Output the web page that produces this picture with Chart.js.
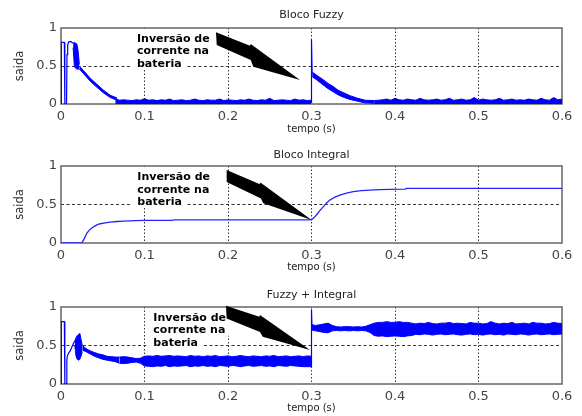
<!DOCTYPE html>
<html>
<head>
<meta charset="utf-8">
<title>saida x tempo</title>
<script src="https://cdn.jsdelivr.net/npm/chart.js@4.4.1/dist/chart.umd.min.js"></script>
<style>
  html, body { margin: 0; padding: 0; background: #fff; }
  #figure { position: relative; width: 582px; height: 416px; }
  #figure canvas { position: absolute; left: 0; }
</style>
</head>
<body>
<div id="figure">
  <canvas id="panel0" width="582" height="140" style="top:0px"></canvas>
  <canvas id="panel1" width="582" height="140" style="top:140px"></canvas>
  <canvas id="panel2" width="582" height="136" style="top:280px"></canvas>
</div>
<script>
// Axes and labels
const xTickLabels = ['0', '0.1', '0.2', '0.3', '0.4', '0.5', '0.6'];
const yTickLabels = ['0', '0.5', '1'];
const panelTitles = ['Bloco Fuzzy', 'Bloco Integral', 'Fuzzy + Integral'];
const noteLines = ['Inversão de', 'corrente na', 'bateria'];

// 1. Bloco Fuzzy
const fuzzyStartT = [0, 0.0004, 0.004, 0.0046, 0.0066, 0.0072, 0.008, 0.0095, 0.012, 0.0145];
const fuzzyStartV = [0, 0.81, 0.81, 0, 0, 0.65, 0.78, 0.82, 0.82, 0.80];
const fuzzyBurstT = [0.0145, 0.016, 0.0175, 0.019, 0.0205, 0.022];
const fuzzyBurstHi = [0.80, 0.81, 0.80, 0.79, 0.70, 0.52];
const fuzzyBurstLo = [0.74, 0.50, 0.47, 0.46, 0.46, 0.46];
const fuzzyDecayT = [0.022, 0.027, 0.035, 0.043, 0.051, 0.059, 0.067];
const fuzzyDecayHi = [0.50, 0.44, 0.34, 0.26, 0.18, 0.115, 0.08];
const fuzzyDecayLo = [0.46, 0.40, 0.30, 0.22, 0.145, 0.085, 0.05];
const fuzzyRippleT1 = [0.065, 0.07, 0.075, 0.08, 0.085, 0.09, 0.095, 0.1, 0.105, 0.11,
    0.115, 0.12, 0.125, 0.13, 0.135, 0.14, 0.145, 0.15, 0.155, 0.16,
    0.165, 0.17, 0.175, 0.18, 0.185, 0.19, 0.195, 0.2, 0.205, 0.21,
    0.215, 0.22, 0.225, 0.23, 0.235, 0.24, 0.245, 0.25, 0.255, 0.26,
    0.265, 0.27, 0.275, 0.28, 0.285, 0.29, 0.295, 0.2995];
const fuzzyRippleHi1 = [0.07, 0.05, 0.055, 0.05, 0.045, 0.055, 0.05, 0.07, 0.05, 0.055,
    0.045, 0.055, 0.05, 0.065, 0.045, 0.05, 0.055, 0.045, 0.05, 0.065,
    0.05, 0.045, 0.055, 0.05, 0.05, 0.065, 0.045, 0.055, 0.05, 0.045,
    0.055, 0.05, 0.065, 0.05, 0.045, 0.055, 0.05, 0.075, 0.045, 0.05,
    0.055, 0.05, 0.045, 0.065, 0.05, 0.055, 0.045, 0.05];
const fuzzySpikeT = [0.2995, 0.3, 0.3008];
const fuzzySpikeV = [0.02, 0.85, 0.40];
const fuzzyDecay2T = [0.3008, 0.306, 0.314, 0.32, 0.326, 0.332, 0.338, 0.346, 0.354, 0.364, 0.375];
const fuzzyDecay2Hi = [0.42, 0.38, 0.32, 0.27, 0.23, 0.18, 0.15, 0.11, 0.08, 0.05, 0.045];
const fuzzyDecay2Lo = [0.36, 0.32, 0.25, 0.20, 0.16, 0.12, 0.09, 0.06, 0.04, 0.015, 0.01];
const fuzzyRippleT2 = [0.375, 0.38, 0.385, 0.39, 0.395, 0.4, 0.405, 0.41, 0.415, 0.42,
    0.425, 0.43, 0.435, 0.44, 0.445, 0.45, 0.455, 0.46, 0.465, 0.47,
    0.475, 0.48, 0.485, 0.49, 0.495, 0.5, 0.505, 0.51, 0.515, 0.52,
    0.525, 0.53, 0.535, 0.54, 0.545, 0.55, 0.555, 0.56, 0.565, 0.57,
    0.575, 0.58, 0.585, 0.59, 0.595, 0.6];
const fuzzyRippleHi2 = [0.045, 0.05, 0.055, 0.065, 0.05, 0.075, 0.055, 0.05, 0.065, 0.055,
    0.05, 0.075, 0.055, 0.05, 0.055, 0.065, 0.05, 0.055, 0.075, 0.05,
    0.055, 0.065, 0.05, 0.055, 0.085, 0.05, 0.065, 0.055, 0.05, 0.055,
    0.075, 0.05, 0.055, 0.065, 0.05, 0.055, 0.05, 0.065, 0.055, 0.05,
    0.075, 0.055, 0.05, 0.085, 0.055, 0.065];

// 2. Bloco Integral
const integralT = [0, 0.025, 0.028, 0.031, 0.035, 0.039, 0.043, 0.047, 0.053, 0.059,
    0.067, 0.075, 0.09, 0.1, 0.133, 0.135, 0.2, 0.3, 0.303, 0.306,
    0.31, 0.314, 0.318, 0.322, 0.328, 0.334, 0.342, 0.35, 0.36, 0.37,
    0.382, 0.394, 0.412, 0.414, 0.6];
const integralV = [0, 0, 0.06, 0.13, 0.18, 0.21, 0.235, 0.25, 0.262, 0.27,
    0.279, 0.285, 0.291, 0.293, 0.295, 0.30, 0.30, 0.30, 0.33, 0.364,
    0.42, 0.47, 0.52, 0.558, 0.595, 0.623, 0.648, 0.667, 0.679, 0.688,
    0.693, 0.697, 0.70, 0.71, 0.71];

// 3. Fuzzy + Integral
const comboStartT = [0, 0.0004, 0.004, 0.0046, 0.0066, 0.007, 0.0075, 0.009, 0.011, 0.013, 0.015, 0.0165];
const comboStartV = [0, 0.81, 0.81, 0, 0, 0.30, 0.36, 0.40, 0.43, 0.48, 0.53, 0.56];
const comboBurstT = [0.0165, 0.018, 0.0195, 0.021, 0.0225, 0.024, 0.0255];
const comboBurstHi = [0.56, 0.60, 0.63, 0.64, 0.66, 0.58, 0.50];
const comboBurstLo = [0.50, 0.36, 0.32, 0.31, 0.32, 0.36, 0.42];
const comboDecayT = [0.0255, 0.03, 0.035, 0.04, 0.045, 0.05, 0.055, 0.06, 0.065, 0.07];
const comboDecayHi = [0.50, 0.46, 0.43, 0.41, 0.39, 0.38, 0.36, 0.355, 0.35, 0.35];
const comboDecayLo = [0.44, 0.42, 0.39, 0.36, 0.34, 0.32, 0.31, 0.30, 0.29, 0.27];
const comboRippleT1 = [0.07, 0.075, 0.08, 0.085, 0.09, 0.095, 0.1, 0.105, 0.11, 0.115,
    0.12, 0.125, 0.13, 0.135, 0.14, 0.145, 0.15, 0.155, 0.16, 0.165,
    0.17, 0.175, 0.18, 0.185, 0.19, 0.195, 0.2, 0.205, 0.21, 0.215,
    0.22, 0.225, 0.23, 0.235, 0.24, 0.245, 0.25, 0.255, 0.26, 0.265,
    0.27, 0.275, 0.28, 0.285, 0.29, 0.295, 0.2995];
const comboRippleHi1 = [0.35, 0.355, 0.35, 0.34, 0.33, 0.335, 0.36, 0.365, 0.36, 0.37,
    0.36, 0.365, 0.37, 0.36, 0.365, 0.36, 0.355, 0.37, 0.36, 0.365,
    0.355, 0.365, 0.36, 0.37, 0.355, 0.36, 0.365, 0.355, 0.36, 0.37,
    0.36, 0.355, 0.365, 0.36, 0.355, 0.365, 0.36, 0.37, 0.355, 0.36,
    0.365, 0.355, 0.36, 0.365, 0.355, 0.365, 0.36];
const comboRippleLo1 = [0.27, 0.265, 0.27, 0.28, 0.285, 0.27, 0.235, 0.23, 0.225, 0.235,
    0.23, 0.24, 0.225, 0.235, 0.23, 0.235, 0.24, 0.225, 0.235, 0.23,
    0.24, 0.23, 0.235, 0.225, 0.24, 0.235, 0.23, 0.24, 0.235, 0.225,
    0.235, 0.24, 0.23, 0.235, 0.24, 0.23, 0.235, 0.225, 0.24, 0.235,
    0.23, 0.24, 0.235, 0.23, 0.225, 0.225, 0.225];
const comboJumpT = [0.2995, 0.3, 0.3006];
const comboJumpV = [0.23, 0.97, 0.73];
const comboRippleT2 = [0.3006, 0.305, 0.31, 0.315, 0.32, 0.325, 0.33, 0.335, 0.34, 0.345,
    0.35, 0.355, 0.36, 0.365, 0.37, 0.375, 0.38, 0.385, 0.39, 0.395,
    0.4, 0.405, 0.41, 0.415, 0.42, 0.425, 0.43, 0.435, 0.44, 0.445,
    0.45, 0.455, 0.46, 0.465, 0.47, 0.475, 0.48, 0.485, 0.49, 0.495,
    0.5, 0.505, 0.51, 0.515, 0.52, 0.525, 0.53, 0.535, 0.54, 0.545,
    0.55, 0.555, 0.56, 0.565, 0.57, 0.575, 0.58, 0.585, 0.59, 0.595, 0.6];
const comboRippleHi2 = [0.77, 0.76, 0.77, 0.78, 0.79, 0.76,
    0.745, 0.74, 0.745, 0.745, 0.74, 0.745, 0.74, 0.75, 0.77,
    0.79, 0.80, 0.80, 0.81, 0.80, 0.80, 0.81, 0.80, 0.80, 0.79,
    0.78, 0.79, 0.785, 0.80, 0.785, 0.78, 0.79, 0.79, 0.80, 0.785,
    0.79, 0.785, 0.78, 0.80, 0.79, 0.79, 0.78, 0.785, 0.81, 0.79,
    0.78, 0.79, 0.785, 0.80, 0.78, 0.785, 0.79, 0.78, 0.80, 0.79,
    0.79, 0.78, 0.785, 0.80, 0.79, 0.785];
const comboRippleLo2 = [0.70, 0.69, 0.68, 0.67, 0.665, 0.69,
    0.695, 0.69, 0.695, 0.69, 0.695, 0.69, 0.695, 0.69, 0.67,
    0.63, 0.62, 0.625, 0.615, 0.62, 0.625, 0.62, 0.615, 0.625, 0.63,
    0.645, 0.64, 0.65, 0.645, 0.635, 0.645, 0.65, 0.64, 0.645, 0.65,
    0.64, 0.635, 0.645, 0.65, 0.64, 0.645, 0.635, 0.645, 0.65, 0.64,
    0.645, 0.635, 0.65, 0.645, 0.64, 0.65, 0.645, 0.635, 0.645, 0.65,
    0.64, 0.645, 0.65, 0.64, 0.645, 0.65];

// Note and arrow, in axis units (tempo, saida)
const noteX = [0.091, 0.0914, 0.1106];
const noteY = [0.82, 0.818, 0.822];
const arrowX = [
    [0.1856, 0.2263, 0.2272, 0.2862, 0.2303, 0.2272, 0.1865],
    [0.1984, 0.2375, 0.2392, 0.3002, 0.2423, 0.2395, 0.1984],
    [0.1976, 0.2375, 0.2383, 0.2982, 0.2416, 0.2383, 0.1984]
];
const arrowY = [
    [0.943, 0.767, 0.789, 0.316, 0.491, 0.579, 0.776],
    [0.948, 0.766, 0.783, 0.299, 0.516, 0.578, 0.792],
    [1.017, 0.874, 0.896, 0.442, 0.614, 0.675, 0.851]
];

// Layout of the three canvases
const panelHeights = [140, 140, 136];
const areaTops = [28, 26, 27];
const areaBottoms = [104, 103, 104];
const xTitlePad = [5, 6.5, 1.7];

const BLUE = '#0000ff';
Chart.defaults.font.family = "'DejaVu Sans', sans-serif";

function points(t, v) {
    return t.map((x, i) => ({ x: x, y: v[i] }));
}

function trace(t, v, color = BLUE, width = 1.2) {
    return { data: points(t, v), borderColor: color, borderWidth: width, pointRadius: 0, fill: false, tension: 0 };
}

// noisy stretch drawn as the area between its lower and upper envelopes
function band(t, hi, lo) {
    return [
        { data: points(t, lo), borderColor: BLUE, borderWidth: 1, pointRadius: 0, fill: false, tension: 0 },
        { data: points(t, hi), borderColor: BLUE, borderWidth: 1, pointRadius: 0, fill: '-1', backgroundColor: BLUE, tension: 0 }
    ];
}

// ripple sitting on the zero line
function floorBand(t, hi) {
    return { data: points(t, hi), borderColor: BLUE, borderWidth: 1, pointRadius: 0, fill: 'origin', backgroundColor: BLUE, tension: 0 };
}

function overlay(p) {
    return {
        id: 'overlay' + p,
        beforeDatasetsDraw(chart) {
            const { ctx, chartArea: a } = chart;
            ctx.save();
            ctx.strokeStyle = '#666';
            ctx.lineWidth = 1.5;
            ctx.strokeRect(a.left, a.top, a.right - a.left, a.bottom - a.top);
            ctx.restore();
        },
        afterDatasetsDraw(chart) {
            const { ctx, chartArea: a, scales: { x, y } } = chart;
            const left = x.getPixelForValue(noteX[p]);
            const base = y.getPixelForValue(noteY[p]);
            ctx.save();
            ctx.font = "bold 11px 'DejaVu Sans'";
            // white strip behind each line hides the grid under the note
            ctx.fillStyle = '#fff';
            noteLines.forEach((line, i) => {
                const b = base + i * 12.5;
                const top = i === 0 ? a.top + 1 : b - 10;
                ctx.fillRect(left - 7, top, ctx.measureText(line).width + 11, b + 2.5 - top);
            });
            ctx.fillStyle = '#000';
            noteLines.forEach((line, i) => ctx.fillText(line, left, base + i * 12.5));
            // arrow pointing at the reversal instant
            ctx.beginPath();
            arrowX[p].forEach((v, i) => {
                const px = x.getPixelForValue(v);
                const py = y.getPixelForValue(arrowY[p][i]);
                if (i === 0) ctx.moveTo(px, py); else ctx.lineTo(px, py);
            });
            ctx.closePath();
            ctx.fill();
            ctx.restore();
        }
    };
}

function edgeless(ctx, lo, hi) {
    const v = ctx.tick ? ctx.tick.value : null;
    return (v === null || Math.abs(v - lo) < 1e-6 || Math.abs(v - hi) < 1e-6) ? 'rgba(0,0,0,0)' : '#333';
}

function drawPanel(p, datasets) {
    const h = panelHeights[p];
    return new Chart(document.getElementById('panel' + p), {
        type: 'line',
        data: { datasets: datasets },
        options: {
            responsive: false,
            animation: false,
            devicePixelRatio: 1,
            layout: { padding: { left: 0, right: 20, top: 0, bottom: 0 } },
            plugins: {
                legend: { display: false },
                tooltip: { enabled: false },
                title: {
                    display: true,
                    text: panelTitles[p],
                    fullSize: false,
                    color: '#222',
                    font: { size: 11, weight: 'normal' },
                    padding: { top: 9, bottom: areaTops[p] - 9 - 13.2 }
                }
            },
            scales: {
                x: {
                    type: 'linear',
                    min: 0,
                    max: 0.6,
                    afterFit: s => { s.height = h - areaBottoms[p]; },
                    ticks: {
                        stepSize: 0.1,
                        autoSkip: false,
                        maxRotation: 0,
                        padding: 5,
                        color: '#444',
                        font: { size: 13 },
                        callback: v => xTickLabels[Math.round(v * 10)]
                    },
                    grid: { drawTicks: false, lineWidth: 1, color: c => edgeless(c, 0, 0.6) },
                    border: { display: false, dash: [1.5, 2] },
                    title: { display: true, text: 'tempo (s)', color: '#222', font: { size: 10 }, padding: { top: 0, bottom: xTitlePad[p] } }
                },
                y: {
                    min: 0,
                    max: 1,
                    afterFit: s => { s.width = 61; },
                    ticks: {
                        stepSize: 0.5,
                        padding: 4,
                        color: '#444',
                        font: { size: 13 },
                        callback: v => yTickLabels[Math.round(v * 2)]
                    },
                    grid: { drawTicks: false, lineWidth: 1, color: c => edgeless(c, 0, 1) },
                    border: { display: false, dash: [3, 2.5] },
                    title: { display: true, text: 'saida', color: '#333', font: { size: 11.5 }, padding: { top: 13, bottom: 0 } }
                }
            }
        },
        plugins: [overlay(p)]
    });
}

drawPanel(0, [
    trace(fuzzyStartT, fuzzyStartV),
    ...band(fuzzyBurstT, fuzzyBurstHi, fuzzyBurstLo),
    ...band(fuzzyDecayT, fuzzyDecayHi, fuzzyDecayLo),
    floorBand(fuzzyRippleT1, fuzzyRippleHi1),
    trace(fuzzySpikeT, fuzzySpikeV),
    ...band(fuzzyDecay2T, fuzzyDecay2Hi, fuzzyDecay2Lo),
    floorBand(fuzzyRippleT2, fuzzyRippleHi2)
]);

drawPanel(1, [
    trace(integralT, integralV, '#2424ff', 1.3)
]);

drawPanel(2, [
    trace(comboStartT, comboStartV),
    ...band(comboBurstT, comboBurstHi, comboBurstLo),
    ...band(comboDecayT, comboDecayHi, comboDecayLo),
    ...band(comboRippleT1, comboRippleHi1, comboRippleLo1),
    trace(comboJumpT, comboJumpV),
    ...band(comboRippleT2, comboRippleHi2, comboRippleLo2)
]);
</script>
</body>
</html>
